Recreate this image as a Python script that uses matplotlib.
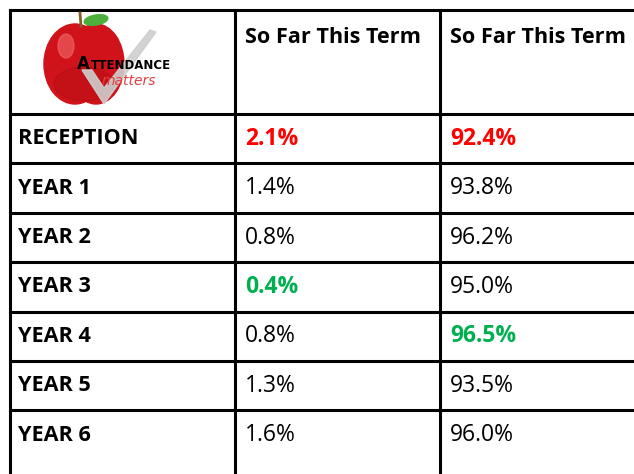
import matplotlib.pyplot as plt
from matplotlib.patches import Ellipse, Polygon

header = "So Far This Term"
years = ["RECEPTION", "YEAR 1", "YEAR 2", "YEAR 3", "YEAR 4", "YEAR 5", "YEAR 6"]
absence = [2.1, 1.4, 0.8, 0.4, 0.8, 1.3, 1.6]
attendance = [92.4, 93.8, 96.2, 95.0, 96.5, 93.5, 96.0]

red = "#ff0000"
green = "#00b050"
font = "Open Sans"

fig = plt.figure(figsize=(6.34, 4.74), dpi=100)
ax = fig.add_axes([0, 0, 1, 1])
ax.set_xlim(0, 634)
ax.set_ylim(474, 0)
ax.axis("off")

# table grid
top = 10
head_bottom = 114
row_h = 49.4
cols = [10, 235, 440]
lw = 2.2
ax.plot([cols[0], 634], [top, top], color="black", lw=lw)
for i in range(len(years)):
    y = head_bottom + i * row_h
    ax.plot([cols[0], 634], [y, y], color="black", lw=lw)
for x in cols:
    ax.plot([x, x], [top, 474], color="black", lw=lw)

# header
for x in cols[1:]:
    ax.text(x + 10, 37, header, fontsize=15.6, fontweight="bold",
            family=font, va="center", ha="left")

# logo (rough drawing)
ax.add_patch(Ellipse((75, 64), 62, 80, color="#d0121a", zorder=1))
ax.add_patch(Ellipse((96, 64), 56, 80, color="#d0121a", zorder=1))
ax.add_patch(Ellipse((84, 84), 60, 34, color="#b00d14", alpha=0.35, zorder=1))
ax.add_patch(Ellipse((66, 46), 16, 24, color="#f46a6a", alpha=0.6, zorder=1))
ax.add_patch(Polygon([[82, 70], [104, 104], [156, 32], [150, 30], [104, 88], [92, 70]],
                     closed=True, color="#cfcfcf", alpha=0.9, zorder=2))
ax.plot([81, 80], [26, 13], color="#8a5a2a", lw=2, zorder=2)
ax.add_patch(Ellipse((96, 20), 24, 10, angle=-10, color="#4caf3c", zorder=2))
ax.text(77, 64, "A", fontsize=12, fontweight="bold", family="DejaVu Sans Condensed",
        va="center", ha="left", zorder=3)
ax.text(91, 65, "TTENDANCE", fontsize=8.5, fontweight="bold", family="DejaVu Sans Condensed",
        va="center", ha="left", zorder=3)
ax.text(102, 81, "matters", fontsize=10, style="italic", color="#e04040",
        family="DejaVu Sans", va="center", ha="left", zorder=3)

# rows
lo_abs, hi_abs = min(absence), max(absence)
lo_att, hi_att = min(attendance), max(attendance)
for i, name in enumerate(years):
    yc = head_bottom + (i + 0.5) * row_h
    ax.text(18, yc, name, fontsize=15.6, fontweight="bold", family=font,
            va="center", ha="left")
    c1, w1 = "black", "normal"
    if absence[i] == hi_abs:
        c1, w1 = red, "bold"
    elif absence[i] == lo_abs:
        c1, w1 = green, "bold"
    c2, w2 = "black", "normal"
    if attendance[i] == lo_att:
        c2, w2 = red, "bold"
    elif attendance[i] == hi_att:
        c2, w2 = green, "bold"
    ax.text(cols[1] + 10, yc, f"{absence[i]:.1f}%", fontsize=16.5, color=c1,
            fontweight=w1, family=font, va="center", ha="left")
    ax.text(cols[2] + 10, yc, f"{attendance[i]:.1f}%", fontsize=16.5, color=c2,
            fontweight=w2, family=font, va="center", ha="left")

fig.savefig("out.png", dpi=100)
